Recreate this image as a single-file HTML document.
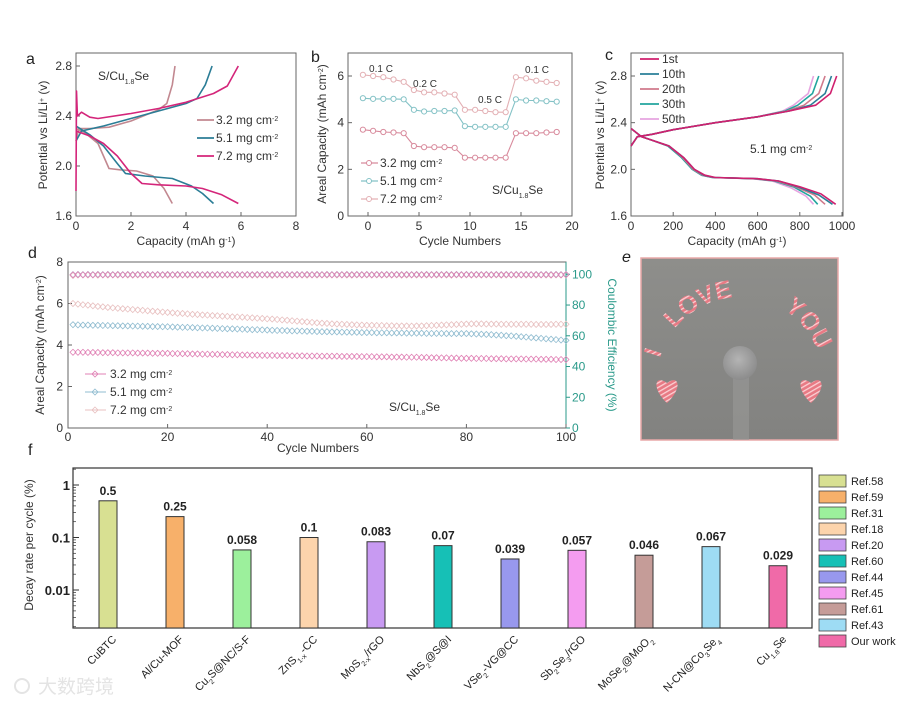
<!DOCTYPE html>
<html><head><meta charset="utf-8"><style>
html,body{margin:0;padding:0;background:#fff}
svg{display:block;font-family:"Liberation Sans","Noto Sans CJK SC",sans-serif}
</style></head><body>
<svg id="fig" width="920" height="706" viewBox="0 0 920 706" xmlns="http://www.w3.org/2000/svg">
<rect width="920" height="706" fill="#fff"/>
<defs>
<linearGradient id="photoBg" x1="0" y1="0" x2="0" y2="1"><stop offset="0" stop-color="#8e8e8b"/><stop offset="1" stop-color="#828280"/></linearGradient>
<radialGradient id="ball" cx="0.45" cy="0.4" r="0.6"><stop offset="0" stop-color="#b4b4b4"/><stop offset="1" stop-color="#8c8c8c"/></radialGradient>
<pattern id="stripe" width="4" height="4" patternUnits="userSpaceOnUse" patternTransform="rotate(60)"><rect width="4" height="4" fill="#e87a84"/><rect width="1.3" height="4" fill="#fbd0d4"/></pattern>
</defs>
<g id="root"></g>
</svg>
<script>
// ---------- Panel a data ----------
const aDis32X=[0,0.3,0.8,1.0,1.2,1.6,2.2,2.8,3.2,3.5];
const aDis32Y=[2.3,2.27,2.18,2.08,1.98,1.97,1.96,1.92,1.82,1.7];
const aChg32X=[0,0.1,0.5,1.2,2,3,3.3,3.5,3.6];
const aChg32Y=[2.2,2.3,2.3,2.31,2.36,2.45,2.5,2.65,2.8];
const aDis51X=[0,0.5,1,1.5,1.8,2.5,3.5,4.2,4.6,5.0];
const aDis51Y=[2.32,2.25,2.16,2.02,1.94,1.92,1.9,1.84,1.78,1.7];
const aChg51X=[0,0.2,1,2,3,4,4.4,4.7,4.95];
const aChg51Y=[2.2,2.28,2.32,2.38,2.44,2.5,2.54,2.65,2.8];
const aDis72X=[0,0.5,1,1.5,2,2.4,3,4,4.6,5.3,5.9];
const aDis72Y=[2.28,2.24,2.18,2.08,1.94,1.86,1.85,1.84,1.82,1.77,1.7];
const aChg72X=[0,0.02,0.05,0.2,0.5,0.8,2,3,4,5,5.5,5.9];
const aChg72Y=[1.8,2.6,2.4,2.43,2.39,2.38,2.42,2.46,2.51,2.58,2.64,2.8];
const aTicksX=[0,2,4,6,8];
const aTicksY=[1.6,2.0,2.4,2.8];
// ---------- Panel b data ----------
const bCycles=[0,1,2,3,4,5,6,7,8,9,10,11,12,13,14,15,16,17,18,19];
const b72=[6.05,6.0,5.95,5.85,5.75,5.4,5.3,5.3,5.25,5.2,4.55,4.55,4.5,4.45,4.45,5.95,5.9,5.8,5.75,5.7];
const b51=[5.05,5.02,5.02,5.02,5.0,4.55,4.48,4.5,4.5,4.52,3.85,3.82,3.82,3.82,3.82,5.0,4.95,4.95,4.92,4.9];
const b32=[3.7,3.65,3.6,3.58,3.55,3.0,2.95,2.95,2.95,2.92,2.5,2.5,2.5,2.5,2.5,3.55,3.55,3.55,3.58,3.6];
const bTicksX=[0,5,10,15,20];
const bTicksY=[0,2,4,6];
// ---------- Panel c data ----------
const cNames=["1st","10th","20th","30th","50th"];
const cDisX=[[0,50,100,180,250,300,350,400,600,700,800,900,970],[0,50,100,180,250,300,345,395,600,700,790,890,955],[0,50,100,180,245,295,340,390,590,690,780,870,920],[0,50,100,175,240,290,335,385,580,680,770,850,885],[0,50,100,175,240,290,335,385,575,670,760,830,865]];
const cDisY=[[2.35,2.28,2.25,2.2,2.1,2.0,1.95,1.93,1.92,1.9,1.85,1.79,1.7],[2.35,2.28,2.25,2.2,2.1,2.0,1.95,1.93,1.92,1.9,1.85,1.78,1.7],[2.35,2.28,2.25,2.2,2.1,2.0,1.95,1.93,1.92,1.9,1.85,1.78,1.7],[2.35,2.28,2.25,2.2,2.1,2.0,1.95,1.93,1.92,1.9,1.85,1.77,1.7],[2.35,2.28,2.25,2.2,2.1,2.0,1.95,1.93,1.92,1.9,1.84,1.77,1.7]];
const cChgX=[[0,30,100,200,400,600,750,875,945,975],[0,30,100,200,400,600,750,850,920,950],[0,30,100,200,400,600,740,820,890,920],[0,30,100,200,400,600,730,790,860,890],[0,30,100,200,400,600,720,770,840,865]];
const cChgY=[[2.2,2.28,2.3,2.34,2.4,2.45,2.5,2.55,2.65,2.8],[2.2,2.28,2.3,2.34,2.4,2.45,2.5,2.55,2.65,2.8],[2.2,2.28,2.3,2.34,2.4,2.45,2.5,2.55,2.65,2.8],[2.2,2.28,2.3,2.34,2.4,2.45,2.5,2.55,2.65,2.8],[2.2,2.28,2.3,2.34,2.4,2.45,2.5,2.55,2.65,2.8]];
const cTicksX=[0,200,400,600,800,1000];
const cTicksY=[1.6,2.0,2.4,2.8];
// ---------- Panel d data ----------
const dCap72=[6.00,5.97,5.94,5.92,5.89,5.86,5.84,5.81,5.79,5.77,5.75,5.73,5.71,5.69,5.67,5.65,5.63,5.61,5.59,5.57,5.55,5.53,5.52,5.50,5.48,5.47,5.45,5.44,5.42,5.41,5.39,5.38,5.36,5.35,5.34,5.32,5.31,5.29,5.28,5.26,5.25,5.23,5.21,5.19,5.17,5.15,5.13,5.11,5.09,5.07,5.05,5.04,5.02,5.01,5.00,4.99,4.98,4.97,4.96,4.95,4.95,4.94,4.94,4.93,4.93,4.92,4.92,4.92,4.91,4.92,4.92,4.93,4.94,4.95,4.96,4.97,4.98,4.99,5.00,5.01,5.02,5.02,5.02,5.01,5.01,5.01,5.00,5.00,5.00,5.00,5.00,5.00,5.00,4.99,4.99,4.99,4.99,5.00,5.00,5.00];
const dCap51=[4.98,4.97,4.96,4.96,4.95,4.95,4.94,4.94,4.93,4.93,4.92,4.92,4.91,4.91,4.90,4.90,4.89,4.89,4.88,4.88,4.87,4.86,4.85,4.85,4.84,4.83,4.82,4.82,4.81,4.80,4.79,4.78,4.78,4.77,4.76,4.75,4.74,4.74,4.73,4.72,4.71,4.70,4.70,4.69,4.68,4.68,4.67,4.66,4.66,4.65,4.64,4.64,4.63,4.63,4.62,4.62,4.61,4.61,4.60,4.60,4.60,4.59,4.59,4.59,4.58,4.58,4.58,4.57,4.57,4.57,4.57,4.56,4.56,4.56,4.56,4.55,4.55,4.55,4.55,4.55,4.54,4.53,4.52,4.51,4.50,4.48,4.47,4.45,4.44,4.42,4.40,4.38,4.36,4.34,4.32,4.30,4.28,4.26,4.24,4.22];
const dCap32=[3.65,3.65,3.65,3.64,3.64,3.64,3.63,3.63,3.63,3.62,3.62,3.62,3.62,3.61,3.61,3.61,3.60,3.60,3.60,3.60,3.59,3.59,3.58,3.58,3.57,3.57,3.56,3.56,3.55,3.55,3.54,3.54,3.53,3.53,3.52,3.52,3.51,3.51,3.50,3.50,3.50,3.49,3.49,3.49,3.48,3.48,3.48,3.47,3.47,3.47,3.46,3.46,3.46,3.46,3.45,3.45,3.45,3.45,3.44,3.44,3.44,3.43,3.43,3.43,3.42,3.42,3.42,3.41,3.41,3.41,3.40,3.40,3.39,3.39,3.38,3.38,3.37,3.37,3.36,3.36,3.36,3.35,3.35,3.35,3.34,3.34,3.34,3.33,3.33,3.33,3.33,3.32,3.32,3.32,3.31,3.31,3.31,3.30,3.30,3.30];
const dCe72=[99.2,99.5,99.6,99.5,99.6,99.4,99.6,99.5,99.6,99.5,99.6,99.5,99.4,99.6,99.5,99.6,99.5,99.6,99.5,99.4,99.6,99.5,99.6,99.5,99.6,99.5,99.6,99.4,99.5,99.6,99.5,99.6,99.5,99.6,99.5,99.6,99.4,99.5,99.6,99.5,99.3,99.6,99.5,99.6,99.5,99.6,99.5,99.4,99.6,99.5,99.6,99.5,99.6,99.5,99.6,99.5,99.4,99.6,99.5,99.6,99.5,99.6,99.5,99.6,99.5,99.6,99.4,99.5,99.6,99.5,99.6,99.5,99.6,99.5,99.6,99.5,99.4,99.6,99.5,99.6,99.5,99.6,99.5,99.6,99.5,99.6,99.4,99.5,99.6,99.5,99.6,99.5,99.6,99.5,99.6,99.5,99.4,99.6,99.5,99.6];
const dCe51=[99.8,99.9,99.8,99.9,99.8,99.9,99.8,99.9,99.8,99.9,99.8,99.9,99.8,99.9,99.8,99.9,99.8,99.9,99.8,99.9,99.8,99.9,99.8,99.9,99.8,99.9,99.8,99.9,99.8,99.9,99.8,99.9,99.8,99.9,99.8,99.9,99.8,99.9,99.8,99.9,99.8,99.9,99.8,99.9,99.8,99.9,99.8,99.9,99.8,99.9,99.8,99.9,99.8,99.9,99.8,99.9,99.8,99.9,99.8,99.9,99.8,99.9,99.8,99.9,99.8,99.9,99.8,99.9,99.8,99.9,99.8,99.9,99.8,99.9,99.8,99.9,99.8,99.9,99.8,99.9,99.8,99.9,99.8,99.9,99.8,99.9,99.8,99.9,99.8,99.9,99.8,99.9,99.8,99.9,99.8,99.9,99.8,99.9,99.8,99.9];
const dCe32=[99.7,99.8,99.7,99.8,99.7,99.8,99.7,99.8,99.7,99.8,99.7,99.8,99.7,99.8,99.7,99.8,99.7,99.8,99.7,99.8,99.7,99.8,99.7,99.8,99.7,99.8,99.7,99.8,99.7,99.8,99.7,99.8,99.7,99.8,99.7,99.8,99.7,99.8,99.7,99.8,99.7,99.8,99.7,99.8,99.7,99.8,99.7,99.8,99.7,99.8,99.7,99.8,99.7,99.8,99.7,99.8,99.7,99.8,99.7,99.8,99.7,99.8,99.7,99.8,99.7,99.8,99.7,99.8,99.7,99.8,99.7,99.8,99.7,99.8,99.7,99.8,99.7,99.8,99.7,99.8,99.7,99.8,99.7,99.8,99.7,99.8,99.7,99.8,99.7,99.8,99.7,99.8,99.7,99.8,99.7,99.8,99.7,99.8,99.7,99.8];
const dTicksX=[0,20,40,60,80,100];
const dTicksY=[0,2,4,6,8];
const dTicksCe=[0,20,40,60,80,100];
// ---------- Panel f data ----------
const fCategories=["CuBTC","Al/Cu-MOF","Cu<sub>2</sub>S@NC/S-F","ZnS<sub>1-x</sub>-CC","MoS<sub>2-x</sub>/rGO","NbS<sub>2</sub>@S@I","VSe<sub>2</sub>-VG@CC","Sb<sub>2</sub>Se<sub>3</sub>/rGO","MoSe<sub>2</sub>@MoO<sub>2</sub>","N-CN@Co<sub>3</sub>Se<sub>4</sub>","Cu<sub>1.8</sub>Se"];
const fValues=[0.5,0.25,0.058,0.1,0.083,0.07,0.039,0.057,0.046,0.067,0.029];
const fLabels=["0.5","0.25","0.058","0.1","0.083","0.07","0.039","0.057","0.046","0.067","0.029"];
const fRefs=["Ref.58","Ref.59","Ref.31","Ref.18","Ref.20","Ref.60","Ref.44","Ref.45","Ref.61","Ref.43","Our work"];
const fColors=["#d8e092","#f7b06a","#9cf09c","#fcd4ac","#c89af2","#16c0b6","#9898ee","#f49cf0","#c59c98","#9edcf4","#f06aa8"];
const fTicks=[1,0.1,0.01];

const NS="http://www.w3.org/2000/svg";
const root=document.getElementById('root');
function mk(tag,attrs,parent){const e=document.createElementNS(NS,tag);for(const k in attrs)e.setAttribute(k,attrs[k]);(parent||root).appendChild(e);return e;}
function lin(d0,d1,r0,r1){return v=>r0+(v-d0)*(r1-r0)/(d1-d0);}
function txt(x,y,s,opt,parent){const t=mk('text',Object.assign({x:x,y:y,'font-size':11,fill:'#333'},opt||{}),parent);t.innerHTML=s;return t;}
function pathFrom(xs,ys,sx,sy){return xs.map((v,i)=>(i?'L':'M')+sx(v).toFixed(1)+','+sy(ys[i]).toFixed(1)).join('');}
const SUP=(s)=>`<tspan baseline-shift="super" font-size="7">${s}</tspan>`;
const SUB=(s)=>`<tspan baseline-shift="sub" font-size="7">${s}</tspan>`;

function frame(g,x0,y0,x1,y1){mk('rect',{x:x0,y:y0,width:x1-x0,height:y1-y0,fill:'none',stroke:'#666','stroke-width':1},g);}

// ================= Panel a =================
{
const g=mk('g',{});


const sx=lin(0,8,76,296), sy=lin(1.6,2.8,216,66);
frame(g,76,53,296,216);
aTicksX.forEach(v=>{mk('line',{x1:sx(v),y1:216,x2:sx(v),y2:212,stroke:'#666'},g);const t=txt(sx(v),230,v,{'text-anchor':'middle','font-size':12},g);});
aTicksY.forEach(v=>{mk('line',{x1:76,y1:sy(v),x2:80,y2:sy(v),stroke:'#666'},g);const t=txt(72,sy(v)+4,v.toFixed(1),{'text-anchor':'end','font-size':12},g);});
const series=[[aDis32X,aDis32Y,aChg32X,aChg32Y,'#c28890'],[aDis51X,aDis51Y,aChg51X,aChg51Y,'#2b7d96'],[aDis72X,aDis72Y,aChg72X,aChg72Y,'#d4257a']];
series.forEach((s,i)=>{
 const p1=mk('path',{d:pathFrom(s[0],s[1],sx,sy),fill:'none',stroke:s[4],'stroke-width':1.6,'stroke-linejoin':'round'},g);
 
 const p2=mk('path',{d:pathFrom(s[2],s[3],sx,sy),fill:'none',stroke:s[4],'stroke-width':1.6,'stroke-linejoin':'round'},g);
 
});
const leg=['3.2 mg cm','5.1 mg cm','7.2 mg cm'];
leg.forEach((l,i)=>{const y=120+i*18;mk('line',{x1:197,y1:y,x2:214,y2:y,stroke:series[i][4],'stroke-width':1.8},g);const t=txt(216,y+4,l+SUP('-2'),{'font-size':12},g);});
const t1=txt(98,80,'S/Cu'+SUB('1.8')+'Se',{'font-size':12},g);
const xl=txt(186,245,'Capacity (mAh g'+SUP('-1')+')',{'text-anchor':'middle','font-size':12},g);
const yl=txt(0,0,'Potential vs Li/Li'+SUP('+')+' (v)',{'text-anchor':'middle','font-size':12,transform:'translate(47,135) rotate(-90)'},g);
const pl=txt(26,64,'a',{'font-size':16,fill:'#222'},g);
}
// ================= Panel b =================
{
const g=mk('g',{});


const sx=lin(0,20,368,572), sy=lin(0,6,216,76);
frame(g,348,53,572,216);
bTicksX.forEach(v=>{mk('line',{x1:sx(v),y1:216,x2:sx(v),y2:212,stroke:'#666'},g);txt(sx(v),230,v,{'text-anchor':'middle','font-size':12},g);});
bTicksY.forEach(v=>{mk('line',{x1:348,y1:sy(v),x2:352,y2:sy(v),stroke:'#666'},g);txt(344,sy(v)+4,v,{'text-anchor':'end','font-size':12},g);});
const ser=[[b72,'#e3b0b4'],[b51,'#84c2c6'],[b32,'#d88a9c']];
ser.forEach(s=>{
 const xs=bCycles.map(c=>c-0.5);
 const p=mk('path',{d:pathFrom(xs,s[0],sx,sy),fill:'none',stroke:s[1],'stroke-width':1.1},g);
 
 s[0].forEach((v,i)=>{const c=mk('circle',{cx:sx(xs[i]),cy:sy(v),r:2.6,fill:'#fff',stroke:s[1],'stroke-width':1},g);
  });
});
[['0.1 C',381,72],['0.2 C',425,87],['0.5 C',490,103],['0.1 C',537,73]].forEach(a=>txt(a[1],a[2],a[0],{'text-anchor':'middle','font-size':10},g));
const leg=[['3.2 mg cm','#d88a9c'],['5.1 mg cm','#84c2c6'],['7.2 mg cm','#e3b0b4']];
leg.forEach((l,i)=>{const y=163+i*18;mk('line',{x1:361,y1:y,x2:378,y2:y,stroke:l[1],'stroke-width':1.2},g);mk('circle',{cx:369,cy:y,r:2.5,fill:'#fff',stroke:l[1]},g);const t=txt(380,y+4,l[0]+SUP('-2'),{'font-size':12},g);});
txt(492,194,'S/Cu'+SUB('1.8')+'Se',{'font-size':12},g);
txt(460,245,'Cycle Numbers',{'text-anchor':'middle','font-size':12},g);
txt(0,0,'Areal Capacity (mAh cm'+SUP('-2')+')',{'text-anchor':'middle','font-size':12,transform:'translate(326,134) rotate(-90)'},g);
txt(311,62,'b',{'font-size':16,fill:'#222'},g);
}
// ================= Panel c =================
{
const g=mk('g',{});


const sx=lin(0,1000,631,842), sy=lin(1.6,2.8,216,76);
frame(g,631,53,843,216);
cTicksX.forEach(v=>{mk('line',{x1:sx(v),y1:216,x2:sx(v),y2:212,stroke:'#666'},g);txt(sx(v),230,v,{'text-anchor':'middle','font-size':12},g);});
cTicksY.forEach(v=>{mk('line',{x1:631,y1:sy(v),x2:635,y2:sy(v),stroke:'#666'},g);txt(627,sy(v)+4,v.toFixed(1),{'text-anchor':'end','font-size':12},g);});
const cols=['#d0206e','#2a7f98','#d07a8c','#22a59e','#e6a4e0'];
for(let i=4;i>=0;i--){
 const p1=mk('path',{d:pathFrom(cDisX[i],cDisY[i],sx,sy),fill:'none',stroke:cols[i],'stroke-width':1.6},g);
 
 const p2=mk('path',{d:pathFrom(cChgX[i],cChgY[i],sx,sy),fill:'none',stroke:cols[i],'stroke-width':1.6},g);
 
}
cNames.forEach((n,i)=>{const y=59+i*15;mk('line',{x1:640,y1:y,x2:659,y2:y,stroke:cols[i],'stroke-width':1.8},g);const t=txt(662,y+4,n,{'font-size':12},g);});
txt(750,153,'5.1 mg cm'+SUP('-2'),{'font-size':12},g);
txt(737,245,'Capacity (mAh g'+SUP('-1')+')',{'text-anchor':'middle','font-size':12},g);
txt(0,0,'Potential vs Li/Li'+SUP('+')+' (v)',{'text-anchor':'middle','font-size':12,transform:'translate(604,135) rotate(-90)'},g);
txt(605,60,'c',{'font-size':16,fill:'#222'},g);
}
// ================= Panel d =================
{
const g=mk('g',{});


const sx=lin(0,100,68,566), sy=lin(0,8,428,262), sce=lin(0,108,428,262);
frame(g,68,262,566,428);
mk('line',{x1:566,y1:262,x2:566,y2:428,stroke:'#2a9a8a','stroke-width':1},g);
dTicksX.forEach(v=>{mk('line',{x1:sx(v),y1:428,x2:sx(v),y2:424,stroke:'#666'},g);txt(sx(v),441,v,{'text-anchor':'middle','font-size':12},g);});
dTicksY.forEach(v=>{mk('line',{x1:68,y1:sy(v),x2:72,y2:sy(v),stroke:'#666'},g);txt(63,sy(v)+4,v,{'text-anchor':'end','font-size':12},g);});
dTicksCe.forEach(v=>{mk('line',{x1:566,y1:sce(v),x2:570,y2:sce(v),stroke:'#2a9a8a'},g);txt(572,sce(v)+4,v,{'font-size':12,fill:'#2a9a8a'},g);});
function diamond(x,y,c,name){const d=mk('path',{d:`M${x},${y-3}L${x+3},${y}L${x},${y+3}L${x-3},${y}Z`,fill:'none',stroke:c,'stroke-width':0.8},g);}
const ser=[[dCap72,dCe72,'#e8c0c0'],[dCap51,dCe51,'#90bcd0'],[dCap32,dCe32,'#e080b4']];
ser.forEach(s=>{
 s[0].forEach((v,i)=>diamond(sx(i+1),sy(v),s[2],'d-capacity-point'));
 s[1].forEach((v,i)=>diamond(sx(i+1),sce(v),s[2],'d-ce-point'));
});
const leg=[['3.2 mg cm','#e080b4'],['5.1 mg cm','#90bcd0'],['7.2 mg cm','#e8c0c0']];
leg.forEach((l,i)=>{const y=374+i*18;mk('line',{x1:85,y1:y,x2:106,y2:y,stroke:l[1]},g);diamond(95,y,l[1],'d-legend-marker');const t=txt(110,y+4,l[0]+SUP('-2'),{'font-size':12},g);});
txt(389,411,'S/Cu'+SUB('1.8')+'Se',{'font-size':12},g);
txt(318,452,'Cycle Numbers',{'text-anchor':'middle','font-size':12},g);
txt(0,0,'Areal Capacity (mAh cm'+SUP('-2')+')',{'text-anchor':'middle','font-size':12,transform:'translate(44,345) rotate(-90)'},g);
txt(0,0,'Coulombic Efficiency (%)',{'text-anchor':'middle','font-size':12,fill:'#2a9a8a',transform:'translate(608,345) rotate(90)'},g);
txt(28,258,'d',{'font-size':16,fill:'#222'},g);
}
// ================= Panel e (photo) =================
{
const g=mk('g',{});


mk('rect',{x:641,y:258,width:197,height:182,fill:'url(#photoBg)',stroke:'#e8a8a8','stroke-width':1.5},g);
mk('rect',{x:733,y:370,width:16,height:70,fill:'#999997',opacity:0.6},g);
mk('circle',{cx:740,cy:363,r:17,fill:'url(#ball)'},g);
mk('path',{id:'arcPath',d:'M657,380 A83,83 0 0 1 823,380',fill:'none'},g);
[['I','22'],['LOVE','55'],['YOU','176']].forEach(w=>{
 const t=mk('text',{'font-size':25,'font-weight':'bold',fill:'url(#stripe)'},g);
 t.innerHTML=`<textPath href="#arcPath" startOffset="${w[1]}">${w[0]}</textPath>`;
 
 
});
[[667,388],[811,388]].forEach(h=>{const p=mk('path',{d:`M${h[0]},${h[1]+15} C${h[0]-16},${h[1]} ${h[0]-12},${h[1]-14} ${h[0]},${h[1]-5} C${h[0]+12},${h[1]-14} ${h[0]+16},${h[1]} ${h[0]},${h[1]+15}Z`,fill:'url(#stripe)'},g);});
txt(622,262,'e',{'font-size':16,fill:'#222','font-style':'italic'},g);
}
// ================= Panel f =================
{
const g=mk('g',{});


const sy=v=>485-(Math.log10(v))*52.5;
const yBase=628;
mk('rect',{x:73,y:468,width:739,height:160,fill:'none',stroke:'#333','stroke-width':1.2},g);
fTicks.forEach(v=>{mk('line',{x1:73,y1:sy(v),x2:79,y2:sy(v),stroke:'#333'},g);const t=txt(70,sy(v)+5,v,{'text-anchor':'end','font-size':13,'font-weight':'bold',fill:'#222'},g);});
[1,0.1,0.01,0.001].forEach(dec=>{for(let m=2;m<10;m++){const y=sy(dec*m);if(y>468&&y<628)mk('line',{x1:73,y1:y,x2:76,y2:y,stroke:'#333','stroke-width':0.7},g);}});
fValues.forEach((v,i)=>{
 const cx=108+i*67;
 const b=mk('rect',{x:cx-9,y:sy(v),width:18,height:yBase-sy(v),fill:fColors[i],stroke:'#333','stroke-width':1},g);
 
 
 const vl=txt(cx,sy(v)-6,fLabels[i],{'text-anchor':'middle','font-size':12,'font-weight':'bold',fill:'#222'},g);
 
 const cl=txt(0,0,fCategories[i].replace(/<sub>(.*?)<\/sub>/g,(m,s)=>SUB(s)),{'text-anchor':'end','font-size':11,fill:'#222',transform:`translate(${cx+9},${640}) rotate(-45)`},g);
 
});
fRefs.forEach((r,i)=>{const y=481+i*16;
 const s=mk('rect',{x:819,y:y-6,width:27,height:12,fill:fColors[i],stroke:'#444','stroke-width':0.8},g);
 
 const t=txt(851,y+4,r,{'font-size':11,fill:'#222'},g);});
txt(0,0,'Decay rate per cycle (%)',{'text-anchor':'middle','font-size':12,transform:'translate(33,545) rotate(-90)'},g);
txt(28,455,'f',{'font-size':16,fill:'#222'},g);
}
// watermark
{
const w=txt(38,693,'大数跨境',{'font-size':19,fill:'#e4e4e4'});


const c=mk('circle',{cx:22,cy:686,r:7,fill:'none',stroke:'#e4e4e4','stroke-width':2});


}
</script>
</body></html>
